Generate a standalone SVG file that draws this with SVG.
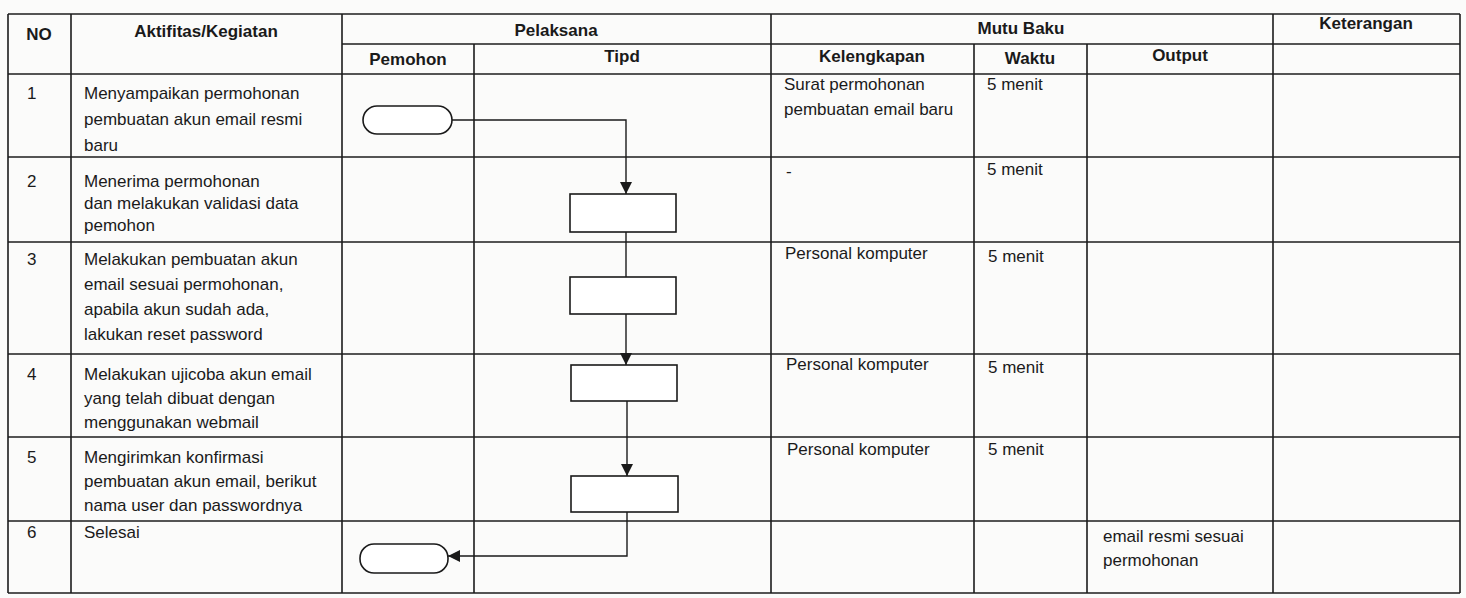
<svg xmlns="http://www.w3.org/2000/svg" width="1466" height="598" viewBox="0 0 1466 598">
<style>
.bg{fill:#fbfbfa}
.grid line{stroke:#1c1c1c;stroke-width:1.6}
.h{font-family:"Liberation Sans",Arial,sans-serif;font-size:17px;font-weight:bold;fill:#1a1a1a;text-anchor:middle}
.t{font-family:"Liberation Sans",Arial,sans-serif;font-size:17px;fill:#1a1a1a}
.shape{fill:#ffffff;stroke:#1a1a1a;stroke-width:1.6}
.conn{fill:none;stroke:#1a1a1a;stroke-width:1.4}
</style>
<defs>
<marker id="arr" viewBox="0 0 12 12" refX="12" refY="6" markerWidth="12" markerHeight="12" markerUnits="userSpaceOnUse" orient="auto">
<path d="M0,0 L12,6 L0,12 Z" fill="#1a1a1a"/>
</marker>
</defs>
<rect class="bg" x="0" y="0" width="1466" height="598"/>
<g id="table" class="grid">
<line x1="8" y1="14" x2="1460" y2="14"/>
<line x1="342" y1="44" x2="1460" y2="44"/>
<line x1="8" y1="74" x2="1460" y2="74"/>
<line x1="8" y1="157" x2="1460" y2="157"/>
<line x1="8" y1="242" x2="1460" y2="242"/>
<line x1="8" y1="354" x2="1460" y2="354"/>
<line x1="8" y1="437" x2="1460" y2="437"/>
<line x1="8" y1="521" x2="1460" y2="521"/>
<line x1="8" y1="593" x2="1460" y2="593"/>
<line x1="8" y1="14" x2="8" y2="593"/>
<line x1="71" y1="14" x2="71" y2="593"/>
<line x1="342" y1="14" x2="342" y2="593"/>
<line x1="474" y1="44" x2="474" y2="593"/>
<line x1="771" y1="14" x2="771" y2="593"/>
<line x1="974" y1="44" x2="974" y2="593"/>
<line x1="1087" y1="44" x2="1087" y2="593"/>
<line x1="1273" y1="14" x2="1273" y2="593"/>
<line x1="1460" y1="14" x2="1460" y2="593"/>
</g>
<g id="headers">
<text class="h" x="39" y="40">NO</text>
<text class="h" x="206" y="37">Aktifitas/Kegiatan</text>
<text class="h" x="556" y="36">Pelaksana</text>
<text class="h" x="1021" y="34">Mutu Baku</text>
<text class="h" x="1366" y="29">Keterangan</text>
<text class="h" x="408" y="65">Pemohon</text>
<text class="h" x="622" y="62">Tipd</text>
<text class="h" x="872" y="62">Kelengkapan</text>
<text class="h" x="1030" y="64">Waktu</text>
<text class="h" x="1180" y="61">Output</text>
</g>
<g id="row1">
<text class="t" x="27" y="99">1</text>
<text class="t" x="84" y="99">Menyampaikan permohonan</text>
<text class="t" x="84" y="125">pembuatan akun email resmi</text>
<text class="t" x="84" y="151">baru</text>
<text class="t" x="784" y="90">Surat permohonan</text>
<text class="t" x="784" y="115">pembuatan email baru</text>
<text class="t" x="987" y="90">5 menit</text>
</g>
<g id="row2">
<text class="t" x="27" y="187">2</text>
<text class="t" x="84" y="187">Menerima permohonan</text>
<text class="t" x="84" y="209">dan melakukan validasi data</text>
<text class="t" x="84" y="231">pemohon</text>
<text class="t" x="786" y="177">-</text>
<text class="t" x="987" y="175">5 menit</text>
</g>
<g id="row3">
<text class="t" x="27" y="265">3</text>
<text class="t" x="84" y="265">Melakukan pembuatan akun</text>
<text class="t" x="84" y="290">email sesuai permohonan,</text>
<text class="t" x="84" y="315">apabila akun sudah ada,</text>
<text class="t" x="84" y="340">lakukan reset password</text>
<text class="t" x="785" y="259">Personal komputer</text>
<text class="t" x="988" y="262">5 menit</text>
</g>
<g id="row4">
<text class="t" x="27" y="380">4</text>
<text class="t" x="84" y="380">Melakukan ujicoba akun email</text>
<text class="t" x="84" y="404">yang telah dibuat dengan</text>
<text class="t" x="84" y="428">menggunakan webmail</text>
<text class="t" x="786" y="370">Personal komputer</text>
<text class="t" x="988" y="373">5 menit</text>
</g>
<g id="row5">
<text class="t" x="27" y="463">5</text>
<text class="t" x="84" y="463">Mengirimkan konfirmasi</text>
<text class="t" x="84" y="487">pembuatan akun email, berikut</text>
<text class="t" x="84" y="511">nama user dan passwordnya</text>
<text class="t" x="787" y="455">Personal komputer</text>
<text class="t" x="988" y="455">5 menit</text>
</g>
<g id="row6">
<text class="t" x="27" y="538">6</text>
<text class="t" x="84" y="538">Selesai</text>
<text class="t" x="1103" y="542">email resmi sesuai</text>
<text class="t" x="1103" y="566">permohonan</text>
</g>
<g id="start"><rect class="shape" x="363" y="106" width="89" height="28" rx="14"/></g>
<g id="step2"><rect class="shape" x="570" y="194" width="106" height="38"/></g>
<g id="step3"><rect class="shape" x="570" y="277" width="106" height="37"/></g>
<g id="step4"><rect class="shape" x="571" y="365" width="106" height="36"/></g>
<g id="step5"><rect class="shape" x="571" y="476" width="107" height="36"/></g>
<g id="end"><rect class="shape" x="360" y="544" width="88" height="29" rx="14"/></g>
<g id="connectors">
<path class="conn" d="M452,120 L626,120 L626,194" marker-end="url(#arr)"/>
<path class="conn" d="M626,232 L626,277"/>
<path class="conn" d="M626,314 L626,365" marker-end="url(#arr)"/>
<path class="conn" d="M627,401 L627,476" marker-end="url(#arr)"/>
<path class="conn" d="M627,512 L627,556 L448,556" marker-end="url(#arr)"/>
</g>
</svg>
